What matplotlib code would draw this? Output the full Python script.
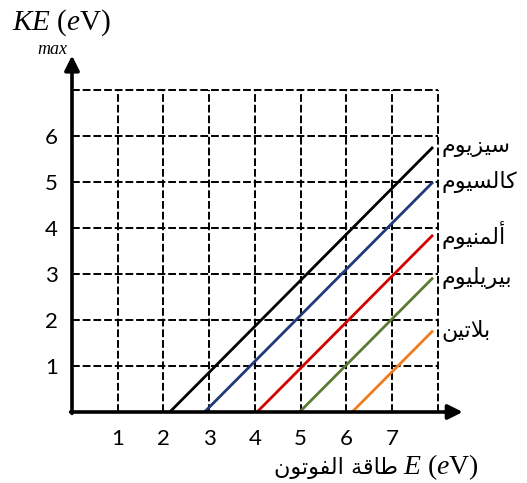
import matplotlib
matplotlib.use("Agg")
import matplotlib.pyplot as plt

plt.rcParams["mathtext.fontset"] = "custom"
plt.rcParams["mathtext.it"] = "Liberation Serif:italic"
plt.rcParams["mathtext.rm"] = "Liberation Serif"

# work functions (eV) and photon energy where each line stops
metals = ["سيزيوم", "كالسيوم", "ألمنيوم", "بيريليوم", "بلاتين"]
work_functions = [2.14, 2.9, 4.05, 4.98, 6.13]
e_end = 7.9
colors = ["black", "#1f3a78", "#d40000", "#5b7a34", "#f07d1a"]

x_ticks = [1, 2, 3, 4, 5, 6, 7]
y_ticks = [1, 2, 3, 4, 5, 6]
x_label_ar = "طاقة الفوتون"

# Arabic presentation forms: (isolated, final, initial, medial)
FORMS = {
    "ا": ("\uFE8D", "\uFE8E", None, None),
    "أ": ("\uFE83", "\uFE84", None, None),
    "ب": ("\uFE8F", "\uFE90", "\uFE91", "\uFE92"),
    "ة": ("\uFE93", "\uFE94", None, None),
    "ت": ("\uFE95", "\uFE96", "\uFE97", "\uFE98"),
    "ر": ("\uFEAD", "\uFEAE", None, None),
    "ز": ("\uFEAF", "\uFEB0", None, None),
    "س": ("\uFEB1", "\uFEB2", "\uFEB3", "\uFEB4"),
    "ط": ("\uFEC1", "\uFEC2", "\uFEC3", "\uFEC4"),
    "ف": ("\uFED1", "\uFED2", "\uFED3", "\uFED4"),
    "ق": ("\uFED5", "\uFED6", "\uFED7", "\uFED8"),
    "ك": ("\uFED9", "\uFEDA", "\uFEDB", "\uFEDC"),
    "ل": ("\uFEDD", "\uFEDE", "\uFEDF", "\uFEE0"),
    "م": ("\uFEE1", "\uFEE2", "\uFEE3", "\uFEE4"),
    "ن": ("\uFEE5", "\uFEE6", "\uFEE7", "\uFEE8"),
    "و": ("\uFEED", "\uFEEE", None, None),
    "ي": ("\uFEF1", "\uFEF2", "\uFEF3", "\uFEF4"),
    "لا": ("\uFEFB", "\uFEFC", None, None),
    "لأ": ("\uFEF7", "\uFEF8", None, None),
}


def shape(text):
    # merge lam-alef, then choose contextual forms and reverse for display
    units = []
    i = 0
    while i < len(text):
        pair = text[i:i + 2]
        if pair in ("لا", "لأ"):
            units.append(pair)
            i += 2
        else:
            units.append(text[i])
            i += 1
    out = []
    for k, u in enumerate(units):
        if u not in FORMS:
            out.append(u)
            continue
        prev = units[k - 1] if k > 0 else None
        nxt = units[k + 1] if k + 1 < len(units) else None
        joins_prev = prev in FORMS and FORMS[prev][2] is not None
        joins_next = FORMS[u][2] is not None and nxt in FORMS
        iso, fin, ini, med = FORMS[u]
        if joins_prev and joins_next:
            out.append(med)
        elif joins_prev:
            out.append(fin)
        elif joins_next:
            out.append(ini)
        else:
            out.append(iso)
    return "".join(reversed(out))


W, H = 527, 483
fig = plt.figure(figsize=(W / 100, H / 100), dpi=100)
x0, y0 = 72, 412          # pixel position of the origin
sx, sy = 45.7, 46.0       # pixels per unit
xmax, ymax = 8.6, 7.8
ax = fig.add_axes([x0 / W, (H - y0) / H, xmax * sx / W, ymax * sy / H])
ax.set_xlim(0, xmax)
ax.set_ylim(0, ymax)
for s in ax.spines.values():
    s.set_visible(False)

# dashed grid
ax.vlines(range(1, 9), 0, 7, colors="black", linestyles=(0, (4, 1.5)), lw=1.4)
ax.hlines(range(1, 8), 0, 8, colors="black", linestyles=(0, (4, 1.5)), lw=1.4)

# axes with arrow heads
arrow = dict(arrowstyle="-|>", lw=2.6, color="black", mutation_scale=22,
             shrinkA=0, shrinkB=0)
ax.annotate("", xy=(8.55, 0), xytext=(-0.03, 0), arrowprops=arrow,
            annotation_clip=False)
ax.annotate("", xy=(0, 7.75), xytext=(0, -0.03), arrowprops=arrow,
            annotation_clip=False)

# KE_max = E - W lines
for name, w, c in zip(metals, work_functions, colors):
    ax.plot([w, e_end], [0, e_end - w], color=c, lw=2, solid_capstyle="butt")
    ax.text(8.08, e_end - w, shape(name), family="DejaVu Sans", fontsize=16,
            ha="left", va="center")

ax.set_xticks(x_ticks)
ax.set_yticks(y_ticks)
ax.set_xticklabels([str(v) for v in x_ticks], family="Lato", fontsize=16)
ax.set_yticklabels([str(v) for v in y_ticks], family="Lato", fontsize=16)
ax.tick_params(axis="x", length=0, pad=12)
ax.tick_params(axis="y", length=0, pad=10)

# axis titles
fig.text(403 / W, 1 - 467 / H, "$E$ ($e$V)", family="Liberation Serif",
         fontsize=20, ha="left", va="center")
fig.text(398 / W, 1 - 468 / H, shape(x_label_ar), family="DejaVu Sans",
         fontsize=16, ha="right", va="center")
fig.text(12 / W, 1 - 23 / H, "$KE$ ($e$V)", family="Liberation Serif",
         fontsize=21, ha="left", va="center")
fig.text(52 / W, 1 - 49 / H, "max", family="Liberation Serif", style="italic",
         fontsize=13, ha="center", va="center")

fig.savefig("out.png", dpi=100)
